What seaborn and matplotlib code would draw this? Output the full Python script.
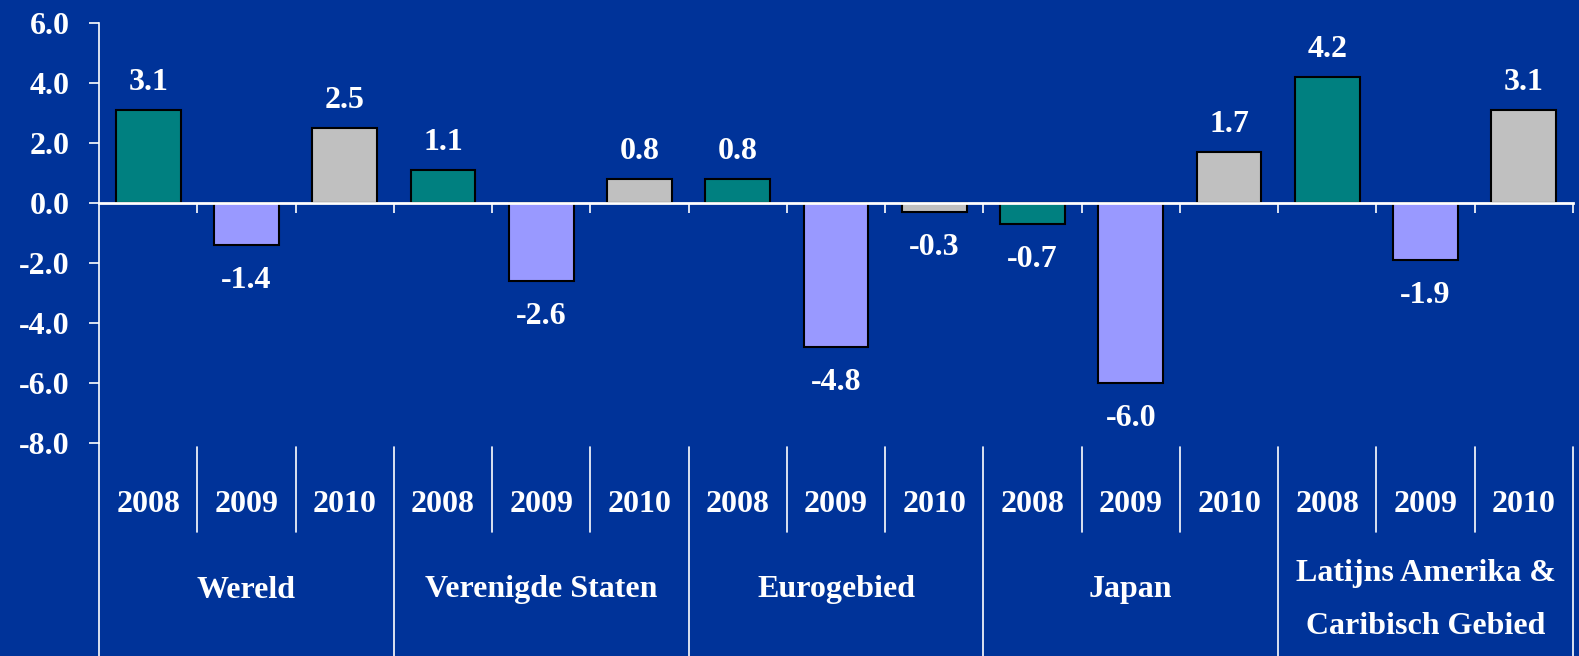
import numpy as np
import matplotlib
matplotlib.use("Agg")
import matplotlib.pyplot as plt
import matplotlib.transforms as mtransforms
import pandas as pd
import seaborn as sns

# ====================================================================
#   DATA
# ====================================================================
regions = ["Wereld", "Verenigde Staten", "Eurogebied", "Japan",
           "Latijns Amerika &\nCaribisch Gebied"]
years = ["2008", "2009", "2010"]
wereld = [3.1, -1.4, 2.5]
vs = [1.1, -2.6, 0.8]
eurogebied = [0.8, -4.8, -0.3]
japan = [-0.7, -6.0, 1.7]
latam = [4.2, -1.9, 3.1]

series = [wereld, vs, eurogebied, japan, latam]
rows = []
for r, vals in zip(regions, series):
    for y, v in zip(years, vals):
        rows.append({"slot": f"{r}|{y}", "region": r, "year": y, "value": v})
df = pd.DataFrame(rows)

bg = "#003399"
colors = {"2008": "#008080", "2009": "#9999FF", "2010": "#C0C0C0"}
fs = 23

sns.set_style("white")
plt.rcParams["font.family"] = ["Liberation Serif", "DejaVu Serif"]
plt.rcParams["font.weight"] = "bold"

fig = plt.figure(figsize=(15.79, 6.56), dpi=100, facecolor=bg)
ax = fig.add_axes([99 / 1579, (656 - 443) / 656, 1474 / 1579, 420 / 656])
ax.set_facecolor(bg)

sns.barplot(data=df, x="slot", y="value", hue="year", palette=colors,
            dodge=False, width=0.66, edgecolor="black", linewidth=1.5,
            saturation=1, legend=False, ax=ax)

ax.set_xlim(-0.5, len(df) - 0.5)
ax.set_ylim(-8, 6)
ax.set_yticks(np.arange(-8, 7, 2))
ax.set_yticklabels([f"{t:.1f}" for t in np.arange(-8, 7, 2)])
ax.tick_params(axis="y", colors="white", labelcolor="white", labelsize=fs,
               length=7, width=1.2, direction="out", pad=14, left=True)
for s in ["top", "right"]:
    ax.spines[s].set_visible(False)
ax.spines["left"].set_color("white")
ax.spines["left"].set_linewidth(1.2)
ax.spines["bottom"].set_position(("data", 0))
ax.spines["bottom"].set_color("white")
ax.spines["bottom"].set_linewidth(2)
ax.set_xticks(np.arange(len(df)))
ax.set_xticklabels([])
ax.tick_params(axis="x", which="major", length=0)
ax.set_xticks(np.arange(0.5, len(df), 1), minor=True)
ax.tick_params(axis="x", which="minor", colors="white", length=7, width=1.2,
               direction="out", bottom=True)
ax.set_xlabel("")
ax.set_ylabel("")

# value labels
for i, v in enumerate(df["value"]):
    off = 0.92 if v >= 0 else -1.18
    ax.text(i, v + off, f"{v:.1f}", ha="center", va="center", color="white",
            fontsize=fs, fontweight="bold")

# category axis below the plot
tr = mtransforms.blended_transform_factory(ax.transData, fig.transFigure)
def fy(px):
    return 1 - px / 656

for i, y in enumerate(df["year"]):
    ax.text(i, fy(504), y, transform=tr, ha="center", va="center",
            color="white", fontsize=fs, fontweight="bold")
for k in range(1, len(df)):
    if k % 3:
        ax.plot([k - 0.5, k - 0.5], [fy(447), fy(532)], transform=tr,
                color="white", lw=1.2, clip_on=False)
for k in range(0, len(df) + 1, 3):
    ax.plot([k - 0.5, k - 0.5], [fy(447 if k else 443), 0], transform=tr,
            color="white", lw=1.2, clip_on=False)
for g, r in enumerate(regions):
    ax.text(g * 3 + 1, fy(600 if "\n" in r else 590), r, transform=tr,
            ha="center", va="center", color="white", fontsize=fs,
            fontweight="bold", linespacing=2.05)

fig.savefig("out.png", dpi=100, facecolor=bg)
